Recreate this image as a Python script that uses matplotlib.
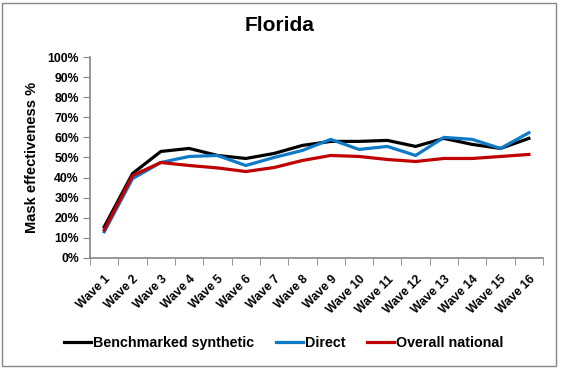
import numpy as np
import matplotlib
matplotlib.use("Agg")
from matplotlib import pyplot as plt
from matplotlib.patches import Rectangle

plt.rcParams['font.family'] = ['Liberation Sans', 'DejaVu Sans']
plt.rcParams['font.weight'] = 'bold'

waves = ["Wave %d" % i for i in range(1, 17)]
benchmarked = [15.5, 42, 53, 54.5, 51, 49.5, 52, 56, 58, 58, 58.5, 55.5, 59.5, 56.5, 54.5, 59.5]
direct = [13, 39.5, 47.5, 50.5, 51, 46, 50, 53.5, 59, 54, 55.5, 51, 60, 59, 54.5, 62.3]
national = [14, 41, 47.5, 46, 44.8, 43, 45, 48.5, 51, 50.5, 49, 48, 49.5, 49.5, 50.5, 51.5]

fig = plt.figure(figsize=(5.63, 3.69), dpi=100)
ax = fig.add_axes([0.160, 0.301, 0.8045, 0.5445])

x = np.arange(len(waves))
ax.plot(x, benchmarked, color='black', lw=2.3, label='Benchmarked synthetic')
ax.plot(x, direct, color='#0E7AC8', lw=2.3, label='Direct')
ax.plot(x, national, color='#C00000', lw=2.3, label='Overall national')

ax.set_xlim(-0.5, len(waves) - 0.5)
ax.set_ylim(0, 100)
ax.set_yticks(np.arange(0, 101, 10))
ax.set_yticklabels(["%d%%" % v for v in range(0, 101, 10)], fontsize=8.8, fontweight='bold')
ax.set_xticks(x)
ax.set_xticklabels(waves, rotation=45, ha='right', rotation_mode='anchor', fontsize=8.8, fontweight='bold')
ax.set_xticks(np.arange(-0.5, len(waves), 1), minor=True)
ax.tick_params(axis='x', which='major', length=0, pad=11)
ax.tick_params(axis='x', which='minor', length=5, color='#868686', direction='out')
ax.tick_params(axis='y', length=5, color='#868686', direction='out', pad=3)

for s in ['top', 'right']:
    ax.spines[s].set_visible(False)
for s in ['left', 'bottom']:
    ax.spines[s].set_color('#868686')
    ax.spines[s].set_linewidth(1.2)

ax.set_ylabel("Mask effectiveness %", fontsize=10.5, fontweight='bold', labelpad=6)
fig.text(0.497, 0.932, "Florida", ha='center', va='center', fontsize=15, fontweight='bold')

fig.legend(loc='center', bbox_to_anchor=(0.504, 0.07), ncol=3, frameon=False,
           prop={'size': 10.3, 'weight': 'bold'}, handlelength=1.9, handletextpad=0.15,
           columnspacing=1.5)

fig.patches.append(Rectangle((0.003, 0.008), 0.985, 0.985, transform=fig.transFigure,
                             fill=False, edgecolor='#868686', lw=1))

fig.savefig("out.png", dpi=100)
